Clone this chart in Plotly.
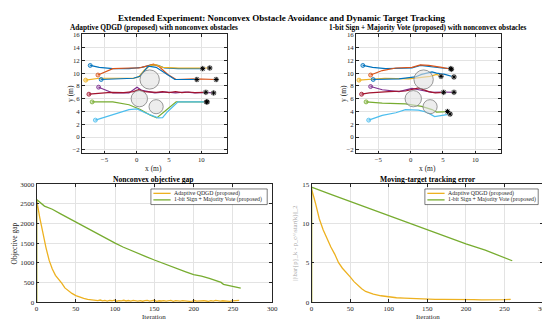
import plotly.graph_objects as go

# ---------------- data ----------------
agent_colors = ["#0072BD", "#D95319", "#EDB120", "#7E2F8E", "#77AC30", "#4DBEEE", "#A2142F", "#0072BD"]
agent_fill = ["rgba(0,114,189,0.35)", "rgba(217,83,25,0.35)", "rgba(237,177,32,0.35)", "rgba(126,47,142,0.35)",
              "rgba(119,172,48,0.35)", "rgba(77,190,238,0.35)", "rgba(162,20,47,0.35)", "rgba(0,114,189,0.35)"]

# Adaptive QDGD trajectories (left panel)
qdgd_traj_x = [
    [-7.2, -5.8, -3.7, -1.2, 0.8, 2.3, 3.3, 4.3, 6.4, 8.5, 10.2],
    [-6.0, -4.8, -3.7, -1.0, 0.3, 1.5, 2.6, 3.5, 4.8, 6.1, 9.0, 12.3],
    [-7.9, -6.8, -5.8, -3.0, -0.5, 0.3, 1.2, 2.1, 3.0, 4.0, 6.5, 11.3],
    [-5.9, -4.7, -3.7, -1.2, 0.05, 0.8, 2.8, 4.5, 6.0, 7.5, 9.0, 10.5, 11.9],
    [-6.9, -3.7, -1.2, 0.56, 2.1, 3.1, 4.3, 6.1, 10.8],
    [-6.4, -3.7, -1.2, 0.05, 1.3, 3.3, 4.0, 4.8, 6.4, 10.9],
    [-7.4, -5.8, -4.0, -2.0, -0.5, 0.3, 1.2, 3.0, 4.0, 5.0, 6.0, 7.0, 8.0, 9.0, 10.7],
    [-5.5, -3.0, -0.5, 0.5, 1.8, 3.0, 4.5, 5.9, 9.3],
]
qdgd_traj_y = [
    [11.2, 10.9, 10.7, 10.7, 10.9, 11.3, 11.2, 10.8, 10.7, 10.65, 10.7],
    [9.7, 10.2, 10.7, 10.8, 10.8, 11.1, 11.4, 11.0, 9.8, 9.0, 9.1, 9.0],
    [8.9, 9.1, 9.2, 9.2, 9.2, 9.4, 10.5, 11.2, 11.3, 10.9, 10.8, 10.8],
    [7.8, 7.3, 6.9, 6.9, 7.8, 7.3, 6.9, 7.05, 6.9, 7.05, 6.9, 7.0, 6.9],
    [5.5, 5.5, 5.05, 4.3, 3.4, 3.0, 4.0, 5.5, 5.5],
    [2.65, 3.5, 4.3, 4.4, 3.8, 3.0, 3.05, 4.0, 5.5, 5.5],
    [6.7, 6.8, 7.0, 6.95, 7.1, 7.4, 7.1, 7.0, 7.1, 6.95, 7.1, 6.95, 7.05, 6.95, 7.0],
    [9.0, 9.1, 9.2, 9.5, 11.1, 10.9, 9.9, 9.0, 9.0],
]

# 1-bit Sign + Majority Vote trajectories (right panel)
sign_traj_x = [
    [-7.4, -5.9, -3.9, -1.8, 0.2, 1.5, 2.8, 4.8, 6.2],
    [-6.2, -4.4, -2.3, 0.2, 1.5, 2.8, 4.8, 6.3],
    [-8.0, -6.9, -4.0, -0.3, 2.2, 3.0, 4.0, 4.7],
    [-6.2, -4.4, -1.8, 0.2, 2.2, 3.3, 5.1, 6.7],
    [-6.9, -4.4, -0.8, 1.7, 3.3, 4.0, 5.0, 5.7],
    [-6.5, -4.4, -2.3, -0.8, 1.2, 2.5, 3.7, 4.8, 6.1],
    [-7.6, -6.4, -3.4, -0.8, 1.2, 2.8, 3.8, 5.1],
    [-5.8, -1.8, 0.7, 1.7, 3.3, 4.0, 5.3, 6.7],
]
sign_traj_y = [
    [11.2, 10.9, 10.7, 10.7, 10.8, 11.2, 11.0, 10.8, 10.7],
    [9.7, 10.4, 10.8, 10.9, 11.3, 11.2, 10.9, 10.6],
    [8.9, 9.0, 9.2, 9.1, 9.4, 9.5, 9.8, 9.5],
    [7.9, 7.4, 7.1, 7.6, 7.2, 7.0, 7.05, 7.0],
    [5.5, 5.3, 5.2, 4.8, 4.3, 3.9, 3.95, 4.0],
    [2.65, 3.4, 3.8, 4.3, 4.2, 3.9, 3.2, 3.4, 3.6],
    [6.7, 6.9, 7.1, 7.2, 7.7, 7.1, 6.9, 7.0],
    [9.0, 9.1, 9.4, 9.8, 10.2, 10.0, 9.8, 9.4],
]

# Nonconvex obstacles (centre x, centre y, radius)
obstacle_cx = [2.0, 0.4, 3.0]
obstacle_cy = [9.0, 6.0, 4.75]
obstacle_r = [1.5, 1.27, 1.1]

# Objective gap
gap_iter_qdgd = [0, 0, 4, 8, 12, 16, 20, 24, 28, 32, 36, 40, 45, 50, 55, 60, 65, 70, 75] + list(range(78, 259, 3))
gap_qdgd = [0, 2600, 2150, 1740, 1380, 1060, 840, 680, 590, 480, 360, 290, 220, 165, 125, 95, 70, 55, 40,
            38, 52, 30, 44, 25, 41, 33, 48, 22, 36, 29, 45, 27, 39, 24, 42, 31, 26, 37, 21, 34, 40, 23, 30,
            45, 19, 33, 27, 38, 24, 29, 41, 20, 35, 28, 22, 37, 25, 31, 18, 26, 39, 23, 30, 21, 34, 27, 19,
            36, 24, 42, 29, 22, 33, 26, 38, 20, 31, 35, 28, 41]
gap_iter_sign = [0, 0, 10, 20, 30, 40, 50, 60, 70, 80, 90, 100, 110, 120, 130, 140, 150, 160, 170, 180,
                 190, 200, 210, 220, 230, 235, 238, 250, 260]
gap_sign = [0, 2610, 2440, 2360, 2250, 2140, 2030, 1920, 1810, 1720, 1610, 1500, 1400, 1310, 1230, 1150,
            1070, 990, 910, 840, 770, 700, 660, 600, 530, 500, 450, 400, 355]

# Tracking error
err_iter_qdgd = [0, 0, 5, 10, 15, 20, 25, 30, 35, 40, 45, 50, 55, 60, 65, 70, 75, 80, 90, 100, 110, 120,
                 130, 140, 150, 160, 170, 180, 190, 200, 210, 220, 230, 240, 250, 258]
err_qdgd = [0, 14.4, 12.6, 10.6, 9.2, 8.0, 7.0, 6.1, 5.0, 4.3, 3.8, 3.2, 2.6, 2.1, 1.7, 1.35, 1.15, 1.0,
            0.8, 0.65, 0.55, 0.5, 0.45, 0.4, 0.36, 0.35, 0.35, 0.35, 0.37, 0.36, 0.3, 0.27, 0.25, 0.27,
            0.3, 0.35]
err_iter_sign = [0, 0, 25, 50, 75, 100, 125, 150, 175, 200, 225, 250, 260]
err_sign = [0, 14.6, 13.7, 12.8, 11.9, 11.0, 10.1, 9.15, 8.3, 7.4, 6.6, 5.65, 5.25]

series_names = ["Adaptive QDGD (proposed)", "1-bit Sign + Majority Vote (proposed)"]
series_colors = ["#EDB120", "#77AC30"]

# ---------------- figure ----------------
FONT = "Liberation Serif"
AX = "#262626"
W, H = 550, 320
fig = go.Figure()


def add_traj(xs, ys, xa, ya):
    for i in range(len(xs)):
        fig.add_trace(go.Scatter(x=xs[i], y=ys[i], mode="lines", xaxis=xa, yaxis=ya,
                                 line=dict(color=agent_colors[i], width=1.2), showlegend=False,
                                 hoverinfo="skip"))
    for i in range(len(xs)):
        fig.add_trace(go.Scatter(x=[xs[i][0]], y=[ys[i][0]], mode="markers", xaxis=xa, yaxis=ya,
                                 marker=dict(symbol="circle", size=4, color=agent_fill[i],
                                             line=dict(color=agent_colors[i], width=0.8)),
                                 showlegend=False, hoverinfo="skip"))
    ex = [t[-1] for t in xs]
    ey = [t[-1] for t in ys]
    fig.add_trace(go.Scatter(x=ex, y=ey, mode="markers", xaxis=xa, yaxis=ya,
                             marker=dict(symbol="circle", size=5, color="rgba(215,215,215,0.85)",
                                         line=dict(color="#9a9a9a", width=0.6)),
                             showlegend=False, hoverinfo="skip"))
    fig.add_trace(go.Scatter(x=ex, y=ey, mode="markers", xaxis=xa, yaxis=ya,
                             marker=dict(symbol="asterisk-open", size=4, color="black",
                                         line=dict(color="black", width=1)),
                             showlegend=False, hoverinfo="skip"))
    for cx, cy, r in zip(obstacle_cx, obstacle_cy, obstacle_r):
        fig.add_shape(type="circle", xref=xa, yref=ya, x0=cx - r, x1=cx + r, y0=cy - r, y1=cy + r,
                      fillcolor="rgba(225,225,225,0.6)", line=dict(color="#7f7f7f", width=0.8),
                      layer="above")


add_traj(qdgd_traj_x, qdgd_traj_y, "x", "y")
add_traj(sign_traj_x, sign_traj_y, "x2", "y2")

fig.add_trace(go.Scatter(x=gap_iter_qdgd, y=gap_qdgd, mode="lines", xaxis="x3", yaxis="y3",
                         line=dict(color=series_colors[0], width=1.3), name=series_names[0], showlegend=False))
fig.add_trace(go.Scatter(x=gap_iter_sign, y=gap_sign, mode="lines", xaxis="x3", yaxis="y3",
                         line=dict(color=series_colors[1], width=1.3), name=series_names[1], showlegend=False))
fig.add_trace(go.Scatter(x=err_iter_qdgd, y=err_qdgd, mode="lines", xaxis="x4", yaxis="y4",
                         line=dict(color=series_colors[0], width=1.3), name=series_names[0], showlegend=False))
fig.add_trace(go.Scatter(x=err_iter_sign, y=err_sign, mode="lines", xaxis="x4", yaxis="y4",
                         line=dict(color=series_colors[1], width=1.3), name=series_names[1], showlegend=False))


def px_x(a, b):
    return [a / W, b / W]


def px_y(top, bottom):
    return [1 - bottom / H, 1 - top / H]


def axis(domain, anchor, rng, tickvals, fs):
    return dict(domain=domain, anchor=anchor, range=rng, tickvals=tickvals, showline=True, mirror="ticks",
                linecolor=AX, linewidth=0.7, ticks="inside", ticklen=3, tickcolor=AX, tickwidth=0.6,
                showgrid=True, gridcolor="#e3e3e3", gridwidth=0.6, zeroline=False,
                tickfont=dict(family=FONT, size=fs, color=AX))


traj_xt = [-5, 0, 5, 10]
traj_yt = [-2, 0, 2, 4, 6, 8, 10, 12, 14, 16]
B_TOP, B_BOT = 176.5, 297.5
fig.update_layout(
    xaxis=axis(px_x(73, 220), "y", [-8.48, 13.94], traj_xt, 6.8),
    yaxis=axis(px_y(23, 145), "x", [-2.55, 16.05], traj_yt, 6.8),
    xaxis2=axis(px_x(351, 498), "y2", [-8.48, 13.94], traj_xt, 6.8),
    yaxis2=axis(px_y(23, 145), "x2", [-2.55, 16.05], traj_yt, 6.8),
    xaxis3=axis(px_x(27, 266), "y3", [0, 300], [0, 50, 100, 150, 200, 250, 300], 7.0),
    yaxis3=axis(px_y(B_TOP, B_BOT), "x3", [0, 3000], [0, 500, 1000, 1500, 2000, 2500, 3000], 7.0),
    xaxis4=axis(px_x(306, 541), "y4", [0, 300], [0, 50, 100, 150, 200, 250, 300], 7.0),
    yaxis4=axis(px_y(B_TOP, B_BOT), "x4", [0, 15], [0, 5, 10, 15], 7.0),
)

# titles and axis labels (pixel positions in the 550x320 page)
texts = [
    ("<b>Extended Experiment: Nonconvex Obstacle Avoidance and Dynamic Target Tracking</b>", 276, 6.0, 9.0, 0, "black"),
    ("<b>Adaptive QDGD (proposed) with nonconvex obstacles</b>", 146, 15.8, 7.3, 0, "black"),
    ("<b>1-bit Sign + Majority Vote (proposed) with nonconvex obstacles</b>", 424, 15.8, 7.3, 0, "black"),
    ("<b>Nonconvex objective gap</b>", 146, 171.5, 7.6, 0, "black"),
    ("<b>Moving-target tracking error</b>", 424, 171.5, 7.6, 0, "black"),
    ("x (m)", 146, 160.5, 7.5, 0, AX),
    ("x (m)", 424, 160.5, 7.5, 0, AX),
    ("y (m)", 62, 84, 7.5, -90, AX),
    ("y (m)", 339, 84, 7.5, -90, AX),
    ("Iteration", 146, 313.0, 7.0, 0, AX),
    ("Iteration", 424, 313.0, 7.0, 0, AX),
    ("Objective gap", 4.5, 237, 7.5, -90, AX),
    ("||\\bar{p}_k - p_c^\\star(k)||_2", 289, 237, 6.6, -90, "#a8a8a8"),
]
for text, x, y, s, ang, col in texts:
    fig.add_annotation(text=text, x=x / W, y=1 - y / H, xref="paper", yref="paper", showarrow=False,
                       xanchor="center", yanchor="middle", textangle=ang, borderpad=0,
                       font=dict(family=FONT, size=s, color=col))

# legends (boxed, MATLAB style) for both lower panels
for (bx0, bx1) in [(143, 261), (421, 536)]:
    by0, by1 = 181.5, 197.5
    fig.add_shape(type="rect", xref="paper", yref="paper", x0=bx0 / W, x1=bx1 / W,
                  y0=1 - by1 / H, y1=1 - by0 / H, fillcolor="white",
                  line=dict(color=AX, width=0.6), layer="above")
    for k, (nm, col) in enumerate(zip(series_names, series_colors)):
        yy = 186.0 + 6.7 * k
        fig.add_shape(type="line", xref="paper", yref="paper", x0=(bx0 + 2.5) / W, x1=(bx0 + 20) / W,
                      y0=1 - yy / H, y1=1 - yy / H, line=dict(color=col, width=1.3), layer="above")
        fig.add_annotation(text=nm, x=(bx0 + 22) / W, y=1 - yy / H, xref="paper", yref="paper",
                           showarrow=False, xanchor="left", yanchor="middle", borderpad=0,
                           font=dict(family=FONT, size=5.8, color=AX))

fig.update_layout(width=W, height=H, margin=dict(l=0, r=0, t=0, b=0), paper_bgcolor="white",
                  plot_bgcolor="white", showlegend=False)

fig.write_html("out.html")
